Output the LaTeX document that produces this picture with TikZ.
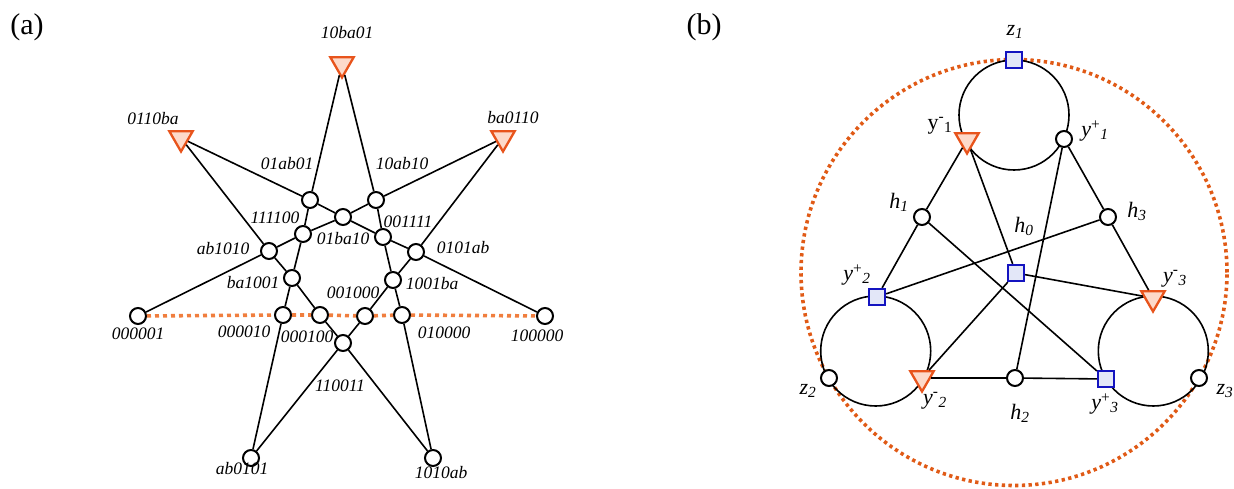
\documentclass[tikz,border=0pt]{standalone}
\usepackage{fontspec}
\setmainfont{Liberation Serif}
\usetikzlibrary{shapes.geometric,positioning}
\usepackage{xcolor}
\definecolor{trired}{HTML}{E8541C}
\definecolor{trifill}{HTML}{FDDACA}
\definecolor{sqblue}{HTML}{1414C0}
\definecolor{sqfill}{HTML}{E3E7F8}
\definecolor{dotA}{HTML}{F07E3E}
\definecolor{dotB}{HTML}{E05A16}

\newcommand{\ys}[2]{\textit{y}\textsuperscript{#1}\textsubscript{\textit{#2}}}
\newcommand{\hs}[1]{\textit{h}\textsubscript{\textit{#1}}}
\newcommand{\zs}[1]{\textit{z}\textsubscript{\textit{#1}}}

\begin{document}
\begin{tikzpicture}[x=1pt,y=-1pt,line width=1.6pt,
  cnode/.style={circle,draw=black,fill=white,line width=2pt,minimum size=16pt,inner sep=0pt},
  tnode/.style={regular polygon,regular polygon sides=3,shape border rotate=180,draw=trired,fill=trifill,line width=2.3pt,minimum size=27pt,inner sep=0pt},
  snode/.style={rectangle,draw=sqblue,fill=sqfill,line width=2.3pt,minimum size=16pt,inner sep=0pt},
  lab/.style={font=\fontsize{17.5}{20}\selectfont\itshape,inner sep=0pt},
  blab/.style={font=\fontsize{22}{25}\selectfont,inner sep=0pt},
  ptitle/.style={font=\fontsize{30}{34}\selectfont,inner sep=0pt}]

\useasboundingbox (0,0) rectangle (1234,489);

\node[ptitle] (pa) at (27,27) {(a)};
\node[ptitle] (pb) at (704,27) {(b)};

\node[tnode] (t10ba01) at (342,64) {};
\node[tnode] (t0110ba) at (181,138) {};
\node[tnode] (tba0110) at (503,138) {};
\node[cnode] (n01ab01) at (310,200) {};
\node[cnode] (n10ab10) at (376,200) {};
\node[cnode] (n01ba10) at (343,217) {};
\node[cnode] (n111100) at (303,234) {};
\node[cnode] (n001111) at (383,237) {};
\node[cnode] (nab1010) at (269,251) {};
\node[cnode] (n0101ab) at (416,252) {};
\node[cnode] (nba1001) at (292,278) {};
\node[cnode] (n1001ba) at (393,280) {};
\node[cnode] (n000001) at (138,316) {};
\node[cnode] (n000010) at (283,315) {};
\node[cnode] (n000100) at (320,315) {};
\node[cnode] (n001000) at (365,316) {};
\node[cnode] (n010000) at (402,315) {};
\node[cnode] (n100000) at (545,316) {};
\node[cnode] (n110011) at (343,343) {};
\node[cnode] (nab0101) at (251,458) {};
\node[cnode] (n1010ab) at (433,458) {};

\draw (t10ba01) -- (n01ab01) -- (n111100) -- (nba1001) -- (n000010) -- (nab0101);
\draw (t10ba01) -- (n10ab10) -- (n001111) -- (n1001ba) -- (n010000) -- (n1010ab);
\draw (t0110ba) -- (n01ab01) -- (n01ba10) -- (n001111) -- (n0101ab) -- (n100000);
\draw (tba0110) -- (n10ab10) -- (n01ba10) -- (n111100) -- (nab1010) -- (n000001);
\draw (t0110ba) -- (nab1010) -- (nba1001) -- (n000100) -- (n110011) -- (n1010ab);
\draw (tba0110) -- (n0101ab) -- (n1001ba) -- (n001000) -- (n110011) -- (nab0101);
\draw[dotA,line width=3.6pt,dash pattern=on 4pt off 4pt] (n000001) -- (n000010) -- (n000100) -- (n001000) -- (n010000) -- (n100000);

\node[lab] (l10ba01) at (347,33) {10ba01};
\node[lab] (l0110ba) at (153,119) {0110ba};
\node[lab] (lba0110) at (513,118) {ba0110};
\node[lab] (l01ab01) at (287,164) {01ab01};
\node[lab] (l10ab10) at (402,164) {10ab10};
\node[lab] (l111100) at (275,218) {111100};
\node[lab] (l001111) at (408,222) {001111};
\node[lab] (l01ba10) at (343,239) {01ba10};
\node[lab] (lab1010) at (223,249) {ab1010};
\node[lab] (l0101ab) at (463,248) {0101ab};
\node[lab] (lba1001) at (253,283) {ba1001};
\node[lab] (l1001ba) at (432,284) {1001ba};
\node[lab] (l001000) at (353,293) {001000};
\node[lab] (l000001) at (138,334) {000001};
\node[lab] (l000010) at (244,332) {000010};
\node[lab] (l000100) at (307,337) {000100};
\node[lab] (l010000) at (444,333) {010000};
\node[lab] (l100000) at (537,336) {100000};
\node[lab] (l110011) at (340,386) {110011};
\node[lab] (lab0101) at (242,469) {ab0101};
\node[lab] (l1010ab) at (441,473) {1010ab};

\draw[dotB,line width=3.6pt,dash pattern=on 3.3pt off 3.4pt] (1014,272.5) circle (213pt);
\draw (1014,115) circle (55pt);
\draw (875.7,351) circle (55pt);
\draw (1153.3,351) circle (55pt);

\node[snode] (z1) at (1014,60) {};
\node[tnode] (ym1) at (967,140) {};
\node[cnode] (yp1) at (1064,139) {};
\node[cnode] (h1) at (922,217) {};
\node[cnode] (h3) at (1108,217) {};
\node[snode] (h0) at (1016,273) {};
\node[snode] (yp2) at (877,297) {};
\node[tnode] (ym3) at (1153,298) {};
\node[cnode] (z2) at (829,378) {};
\node[tnode] (ym2) at (922,378) {};
\node[cnode] (h2) at (1015,378) {};
\node[snode] (yp3) at (1106,379) {};
\node[cnode] (z3) at (1199,378) {};

\draw (ym1) -- (h1) -- (yp2);
\draw (ym1) -- (h0);
\draw (yp1) -- (h3) -- (ym3);
\draw (yp1) -- (h2);
\draw (h1) -- (yp3);
\draw (h3) -- (yp2);
\draw (h0) -- (ym3);
\draw (h0) -- (ym2);
\draw (ym2) -- (h2) -- (yp3);

\node[blab] (lz1) at (1015,32) {\zs{1}};
\node[blab] (lym1) at (940,126) {y\textsuperscript{-}\textsubscript{1}};
\node[blab] (lyp1) at (1095,131) {\ys{+}{1}};
\node[blab] (lh1) at (899,202) {\hs{1}};
\node[blab] (lh3) at (1137,211) {\hs{3}};
\node[blab] (lh0) at (1024,226) {\hs{0}};
\node[blab] (lyp2) at (857,275) {\ys{+}{2}};
\node[blab] (lym3) at (1175,279) {\ys{-}{3}};
\node[blab] (lz2) at (808,391) {\zs{2}};
\node[blab] (lym2) at (935,401) {\ys{-}{2}};
\node[blab] (lh2) at (1020,413) {\hs{2}};
\node[blab] (lyp3) at (1105,404) {\ys{+}{3}};
\node[blab] (lz3) at (1225,391) {\zs{3}};

\end{tikzpicture}
\end{document}
